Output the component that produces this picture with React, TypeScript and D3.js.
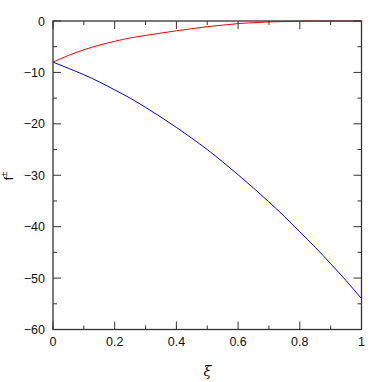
import React, { useEffect, useRef } from "react";
import * as d3 from "d3";

const xi = [0, 0.05, 0.1, 0.15, 0.2, 0.25, 0.3, 0.35, 0.4, 0.45, 0.5, 0.55, 0.6, 0.65, 0.7, 0.75, 0.8, 0.85, 0.9, 0.95, 1];
const fPlus = [-8, -6.7, -5.6, -4.7, -3.95, -3.3, -2.8, -2.35, -1.9, -1.5, -1.1, -0.8, -0.5, -0.32, -0.19, -0.1, -0.04, -0.01, 0, 0, 0];
const fMinus = [-8, -9.2, -10.45, -11.85, -13.4, -15.0, -16.8, -18.7, -20.7, -22.8, -25.0, -27.4, -29.9, -32.5, -35.2, -38.0, -41.0, -44.0, -47.2, -50.5, -54.0];
const xTicks = [0, 0.2, 0.4, 0.6, 0.8, 1];
const xMinor = [0.1, 0.3, 0.5, 0.7, 0.9];
const yTicks = [0, -10, -20, -30, -40, -50, -60];
const yMinor = [-5, -15, -25, -35, -45, -55];

export default function App() {
  const ref = useRef(null);

  useEffect(() => {
    const svg = d3.select(ref.current);
    svg.selectAll("*").remove();

    const left = 53, right = 361.5, top = 21, bottom = 329.5;
    const x = d3.scaleLinear().domain([0, 1]).range([left, right]);
    const y = d3.scaleLinear().domain([-60, 0]).range([bottom, top]);
    const font = "'Liberation Sans', Arial, sans-serif";
    const axisColor = "#333";

    const line = (vals) =>
      d3
        .line()
        .x((d, i) => x(xi[i]))
        .y((d) => y(d))
        .curve(d3.curveMonotoneX)(vals);

    svg.append("path").attr("d", line(fPlus)).attr("fill", "none").attr("stroke", "#ff0000").attr("stroke-width", 1);
    svg.append("path").attr("d", line(fMinus)).attr("fill", "none").attr("stroke", "#0000ff").attr("stroke-width", 1);

    const g = svg.append("g").attr("stroke", axisColor).attr("stroke-width", 1);

    xTicks.forEach((t) => {
      g.append("line").attr("x1", x(t)).attr("x2", x(t)).attr("y1", bottom).attr("y2", bottom - 8);
      g.append("line").attr("x1", x(t)).attr("x2", x(t)).attr("y1", top).attr("y2", top + 8);
    });
    xMinor.forEach((t) => {
      g.append("line").attr("x1", x(t)).attr("x2", x(t)).attr("y1", bottom).attr("y2", bottom - 4);
      g.append("line").attr("x1", x(t)).attr("x2", x(t)).attr("y1", top).attr("y2", top + 4);
    });
    yTicks.forEach((t) => {
      g.append("line").attr("x1", left).attr("x2", left + 8).attr("y1", y(t)).attr("y2", y(t));
      g.append("line").attr("x1", right).attr("x2", right - 8).attr("y1", y(t)).attr("y2", y(t));
    });
    yMinor.forEach((t) => {
      g.append("line").attr("x1", left).attr("x2", left + 4).attr("y1", y(t)).attr("y2", y(t));
      g.append("line").attr("x1", right).attr("x2", right - 4).attr("y1", y(t)).attr("y2", y(t));
    });

    svg
      .append("rect")
      .attr("x", left)
      .attr("y", top)
      .attr("width", right - left)
      .attr("height", bottom - top)
      .attr("fill", "none")
      .attr("stroke", axisColor)
      .attr("stroke-width", 1.3);

    svg
      .selectAll("text.xt")
      .data(xTicks)
      .join("text")
      .attr("x", (d) => x(d))
      .attr("y", bottom + 16)
      .attr("text-anchor", "middle")
      .attr("font-family", font)
      .attr("font-size", 12.5)
      .attr("fill", "#111")
      .text((d) => String(d));

    svg
      .selectAll("text.yt")
      .data(yTicks)
      .join("text")
      .attr("x", left - 8)
      .attr("y", (d) => y(d) + 4.5)
      .attr("text-anchor", "end")
      .attr("font-family", font)
      .attr("font-size", 12.5)
      .attr("fill", "#111")
      .text((d) => (d < 0 ? "\u2212" + Math.abs(d) : String(d)));

    svg
      .append("text")
      .attr("x", (left + right) / 2)
      .attr("y", 376)
      .attr("text-anchor", "middle")
      .attr("font-family", "'DejaVu Serif', serif")
      .attr("font-style", "italic")
      .attr("font-size", 14)
      .attr("fill", "#111")
      .text("ξ");

    const yl = svg
      .append("text")
      .attr("transform", `translate(13,176) rotate(-90)`)
      .attr("text-anchor", "middle")
      .attr("font-family", font)
      .attr("font-size", 12.5)
      .attr("fill", "#111");
    yl.append("tspan").text("f");
    yl.append("tspan").attr("dy", -6).attr("font-size", 9).text("±");
  }, []);

  return (
    <svg
      ref={ref}
      width={382}
      height={382}
      style={{ position: "absolute", left: 0, top: 0, background: "#fff" }}
    />
  );
}
